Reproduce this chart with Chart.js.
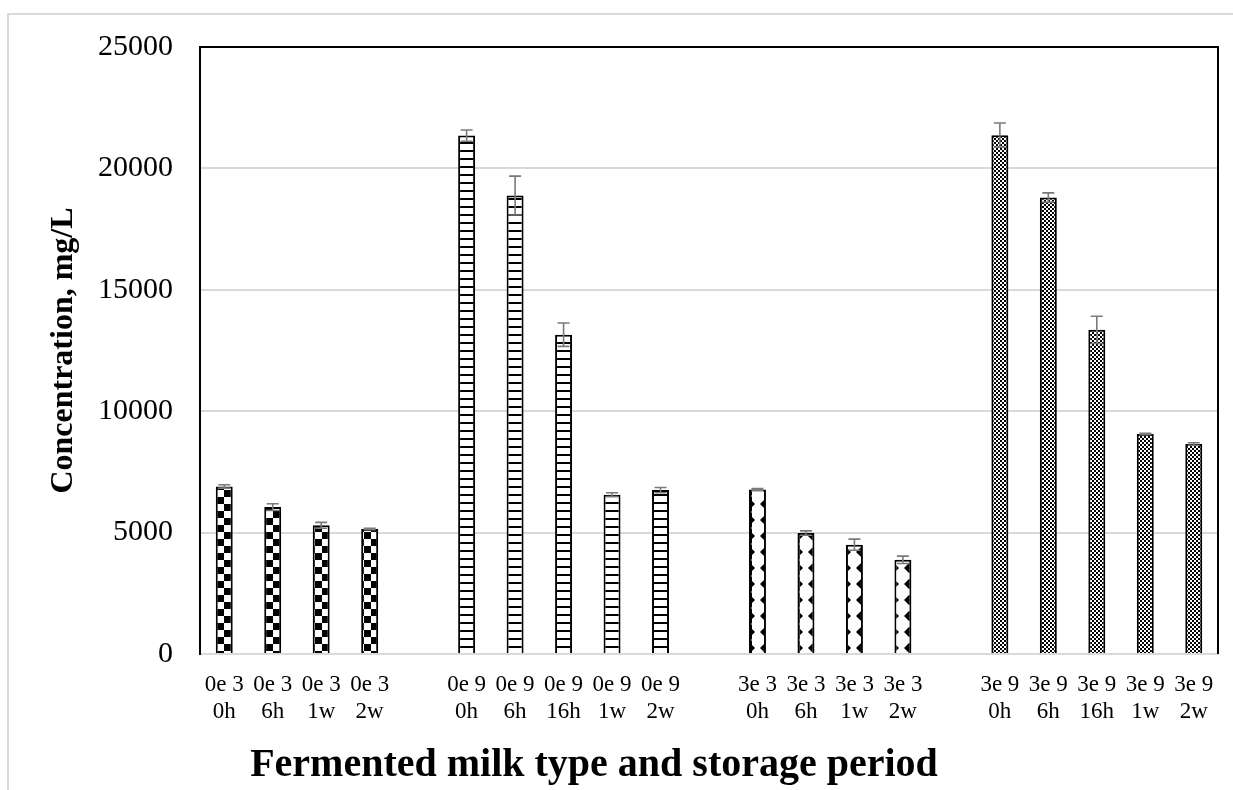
<!DOCTYPE html>
<html>
<head>
<meta charset="utf-8">
<script src="https://cdn.jsdelivr.net/npm/chart.js@4"></script>
<style>
  body { margin: 0; background: #fff; overflow: hidden; }
  #wrap { width: 1233px; height: 790px; position: relative; }
</style>
</head>
<body>
<div id="wrap"><canvas id="chart"></canvas></div>
<script>
// categories (blank entries are the gaps between milk types)
var categories = [
    ['0e 3', '0h'], ['0e 3', '6h'], ['0e 3', '1w'], ['0e 3', '2w'], '',
    ['0e 9', '0h'], ['0e 9', '6h'], ['0e 9', '16h'], ['0e 9', '1w'], ['0e 9', '2w'], '',
    ['3e 3', '0h'], ['3e 3', '6h'], ['3e 3', '1w'], ['3e 3', '2w'], '',
    ['3e 9', '0h'], ['3e 9', '6h'], ['3e 9', '16h'], ['3e 9', '1w'], ['3e 9', '2w']
];
var concentration = [6900, 6050, 5300, 5150, null,
    21350, 18880, 13150, 6560, 6750, null,
    6780, 4980, 4500, 3880, null,
    21370, 18800, 13350, 9060, 8650];
var errors = [70, 140, 120, 30, null,
    230, 800, 480, 80, 110, null,
    30, 90, 230, 150, null,
    500, 190, 560, 30, 50];
var milkType = [0, 0, 0, 0, null, 1, 1, 1, 1, 1, null, 2, 2, 2, 2, null, 3, 3, 3, 3, 3];
var yTicks = [0, 5000, 10000, 15000, 20000, 25000];

var serif = "'Liberation Serif', 'Times New Roman', serif";

function makePattern(size, draw) {
    var c = document.createElement('canvas');
    c.width = size; c.height = size;
    var g = c.getContext('2d');
    g.fillStyle = '#fff';
    g.fillRect(0, 0, size, size);
    g.fillStyle = '#000';
    draw(g, size);
    return g.createPattern(c, 'repeat');
}

var patterns = [
    // big checkerboard
    makePattern(14, function (g) { g.fillRect(0, 0, 7, 7); g.fillRect(7, 7, 7, 7); }),
    // horizontal lines
    makePattern(8, function (g) { g.fillRect(0, 6, 8, 2); }),
    // zigzag / diamonds
    makePattern(16, function (g) {
        g.beginPath(); g.moveTo(16, 0); g.lineTo(8, 8); g.lineTo(16, 16); g.closePath(); g.fill();
        g.beginPath(); g.moveTo(0, 5); g.lineTo(3, 8); g.lineTo(0, 11); g.closePath(); g.fill();
    }),
    // small checkerboard
    makePattern(4, function (g) { g.fillRect(0, 0, 2, 2); g.fillRect(2, 2, 2, 2); })
];

var barFills = milkType.map(function (t) { return t === null ? 'rgba(0,0,0,0)' : patterns[t]; });

var framePlugin = {
    id: 'frame',
    beforeDraw: function (chart) {
        var ctx = chart.ctx;
        ctx.save();
        ctx.strokeStyle = '#d9d9d9';
        ctx.lineWidth = 2;
        ctx.beginPath();
        ctx.moveTo(8, 800);
        ctx.lineTo(8, 14);
        ctx.lineTo(1240, 14);
        ctx.stroke();
        ctx.restore();
    },
    afterDraw: function (chart) {
        var ctx = chart.ctx, a = chart.chartArea;
        ctx.save();
        ctx.strokeStyle = '#000';
        ctx.lineWidth = 2;
        ctx.beginPath();
        ctx.moveTo(a.left, a.bottom);
        ctx.lineTo(a.left, a.top);
        ctx.lineTo(a.right, a.top);
        ctx.lineTo(a.right, a.bottom);
        ctx.stroke();
        // axis titles
        ctx.fillStyle = '#000';
        ctx.textAlign = 'center';
        ctx.textBaseline = 'middle';
        ctx.font = 'bold 40px ' + serif;
        ctx.fillText('Fermented milk type and storage period', 594, 766);
        ctx.translate(64, (a.top + a.bottom) / 2);
        ctx.rotate(-Math.PI / 2);
        ctx.font = 'bold 32px ' + serif;
        ctx.fillText('Concentration, mg/L', 0, 0);
        ctx.restore();
    }
};

var errorBarPlugin = {
    id: 'errorBars',
    afterDatasetsDraw: function (chart) {
        var ctx = chart.ctx, y = chart.scales.y;
        var meta = chart.getDatasetMeta(0);
        ctx.save();
        ctx.strokeStyle = '#7a7a7a';
        ctx.lineWidth = 1.6;
        concentration.forEach(function (v, i) {
            if (v === null) return;
            var x = meta.data[i].x;
            var top = y.getPixelForValue(v + errors[i]);
            var bot = y.getPixelForValue(v - errors[i]);
            ctx.beginPath();
            ctx.moveTo(x, top); ctx.lineTo(x, bot);
            ctx.moveTo(x - 6, top); ctx.lineTo(x + 6, top);
            ctx.moveTo(x - 6, bot); ctx.lineTo(x + 6, bot);
            ctx.stroke();
        });
        ctx.restore();
    }
};

new Chart(document.getElementById('chart'), {
    type: 'bar',
    data: {
        labels: categories,
        datasets: [{
            data: concentration,
            backgroundColor: barFills,
            borderColor: '#000',
            borderWidth: 2,
            categoryPercentage: 1,
            barPercentage: 0.35
        }]
    },
    options: {
        responsive: true,
        maintainAspectRatio: false,
        animation: false,
        layout: { padding: { left: 0, right: 15, top: 47, bottom: 0 } },
        plugins: { legend: { display: false }, tooltip: { enabled: false } },
        scales: {
            x: {
                grid: { display: false, drawTicks: false },
                border: { color: '#d9d9d9', width: 2 },
                ticks: { color: '#000', font: { family: serif, size: 23 }, padding: 17, maxRotation: 0, autoSkip: false },
                afterFit: function (s) { s.height = 136; }
            },
            y: {
                min: 0,
                max: 25000,
                afterBuildTicks: function (s) { s.ticks = yTicks.map(function (v) { return { value: v }; }); },
                grid: { color: '#d9d9d9', lineWidth: 2, drawTicks: false },
                border: { color: '#000', width: 2 },
                ticks: {
                    color: '#000',
                    font: { family: serif, size: 30 },
                    padding: 27,
                    callback: function (v) { return String(v); }
                },
                afterFit: function (s) { s.width = 200; }
            }
        }
    },
    plugins: [framePlugin, errorBarPlugin]
});
</script>
</body>
</html>
